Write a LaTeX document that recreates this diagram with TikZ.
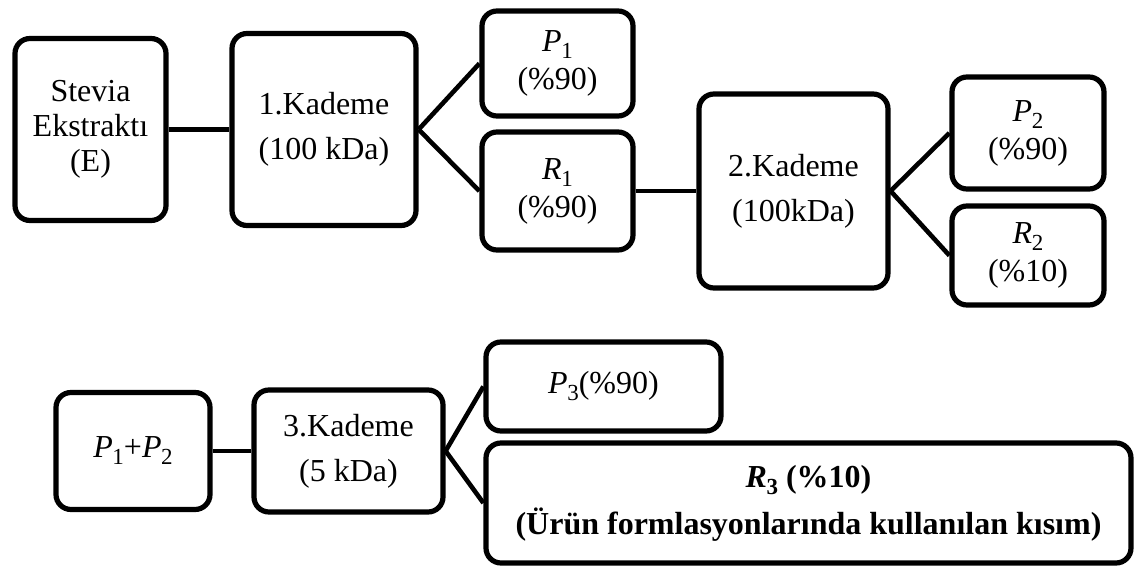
\documentclass[tikz,border=0pt]{standalone}
\usepackage{fontspec}
\setmainfont{Liberation Serif}
\newcommand{\symsub}[2]{\textit{#1}\kern-0.5pt\raisebox{-7pt}{\fontsize{23}{23}\selectfont #2}}
\newcommand{\symsubb}[2]{\textbf{\textit{#1}}\kern-0.5pt\raisebox{-7pt}{\fontsize{23}{23}\selectfont\bfseries #2}}
\tikzset{
  box/.style={draw, line width=5.2pt, rounded corners=15pt, align=center, inner sep=0pt},
  tE/.style={font=\fontsize{32}{35}\selectfont},
  tK/.style={font=\fontsize{32}{45}\selectfont},
  tP/.style={font=\fontsize{32}{38}\selectfont},
  tR/.style={font=\fontsize{32}{47}\selectfont\bfseries},
  link/.style={line width=4.6pt}
}
\begin{document}
\begin{tikzpicture}[x=1pt,y=-1pt]
\useasboundingbox (0,0) rectangle (1136,567);
% top row
\node[box,tE,minimum width=151pt,minimum height=182pt] (E) at (90.5,129.5) {Stevia\\Ekstraktı\\(E)};
\node[box,tK,minimum width=184pt,minimum height=192pt] (K1) at (324,129.5) {1.Kademe\\(100 kDa)};
\node[box,tP,minimum width=151pt,minimum height=105pt] (P1) at (557.5,63.5) {\symsub{P}{1}\\(\%90)};
\node[box,tP,minimum width=151pt,minimum height=118pt] (R1) at (557.5,191) {\symsub{R}{1}\\(\%90)};
\node[box,tK,minimum width=189pt,minimum height=194pt] (K2) at (793.5,191) {2.Kademe\\(100kDa)};
\node[box,tP,minimum width=152pt,minimum height=112pt] (P2) at (1028,133) {\symsub{P}{2}\\(\%90)};
\node[box,tP,minimum width=152pt,minimum height=99pt] (R2) at (1028,255.5) {\symsub{R}{2}\\(\%10)};
% bottom row
\node[box,tP,minimum width=154pt,minimum height=117pt] (P12) at (133,451) {\symsub{P}{1}+\symsub{P}{2}};
\node[box,tK,minimum width=189pt,minimum height=122pt] (K3) at (348.5,451) {3.Kademe\\(5 kDa)};
\node[box,tP,minimum width=235pt,minimum height=89pt] (P3) at (603.5,386.5) {\symsub{P}{3}(\%90)};
\node[box,tR,minimum width=645pt,minimum height=120pt] (R3) at (808.5,503) {\symsubb{R}{3} (\%10)\\(Ürün formlasyonlarında kullanılan kısım)};
% connectors
\draw[link] (E.east) -- (K1.west);
\draw[link] (K1.east) -- (P1.west);
\draw[link] (K1.east) -- (R1.west);
\draw[link] (R1.east) -- (K2.west);
\draw[link] (K2.east) -- (P2.west);
\draw[link] (K2.east) -- (R2.west);
\draw[link] (P12.east) -- (K3.west);
\draw[link] (K3.east) -- (P3.west);
\draw[link] (K3.east) -- (R3.west);
\end{tikzpicture}
\end{document}
